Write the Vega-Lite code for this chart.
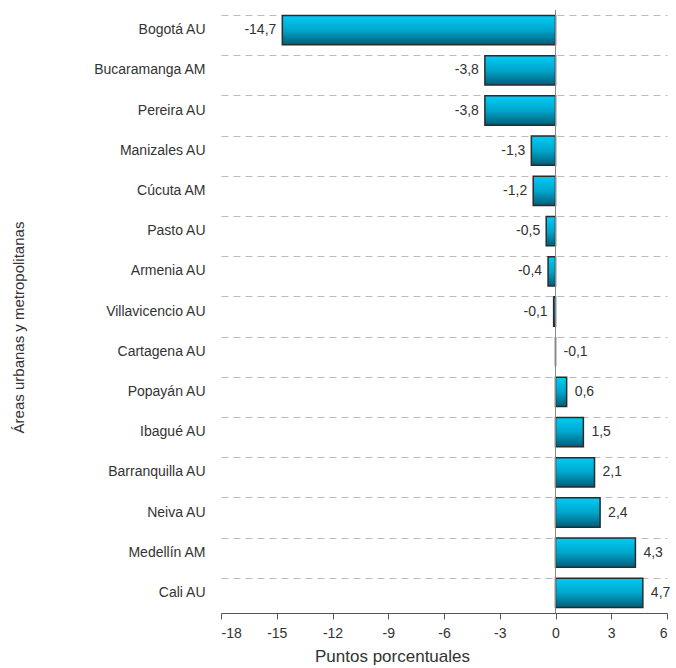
{
  "$schema": "https://vega.github.io/schema/vega-lite/v6.json",
  "autosize": "none",
  "width": 446,
  "height": 603,
  "padding": {"left": 221, "top": 10, "right": 9, "bottom": 55},
  "background": "white",
  "config": {"view": {"stroke": null}, "font": "Liberation Sans"},
  "data": {"values": [
    {"area": "Bogotá AU", "value": -14.7, "label": "-14,7"},
    {"area": "Bucaramanga AM", "value": -3.8, "label": "-3,8"},
    {"area": "Pereira AU", "value": -3.8, "label": "-3,8"},
    {"area": "Manizales AU", "value": -1.3, "label": "-1,3"},
    {"area": "Cúcuta AM", "value": -1.2, "label": "-1,2"},
    {"area": "Pasto AU", "value": -0.5, "label": "-0,5"},
    {"area": "Armenia AU", "value": -0.4, "label": "-0,4"},
    {"area": "Villavicencio AU", "value": -0.1, "label": "-0,1"},
    {"area": "Cartagena AU", "value": 0, "label": "-0,1"},
    {"area": "Popayán AU", "value": 0.6, "label": "0,6"},
    {"area": "Ibagué AU", "value": 1.5, "label": "1,5"},
    {"area": "Barranquilla AU", "value": 2.1, "label": "2,1"},
    {"area": "Neiva AU", "value": 2.4, "label": "2,4"},
    {"area": "Medellín AM", "value": 4.3, "label": "4,3"},
    {"area": "Cali AU", "value": 4.7, "label": "4,7"}
  ]},
  "encoding": {
    "y": {
      "field": "area", "type": "nominal", "sort": null,
      "scale": {"paddingInner": 0.27, "paddingOuter": 0.135},
      "axis": {
        "title": "Áreas urbanas y metropolitanas",
        "titleFont": "Liberation Sans", "titleFontSize": 15, "titleFontWeight": "normal", "titleColor": "#333",
        "titleX": -203, "titleY": 317, "titleAngle": -90, "titleAlign": "center", "titleBaseline": "middle",
        "labelFont": "Liberation Sans", "labelFontSize": 14, "labelColor": "#333", "labelPadding": 16,
        "ticks": false, "domain": false,
        "grid": true, "bandPosition": 0, "gridDash": [7, 5], "gridColor": "#bbbbbb", "gridWidth": 1
      }
    }
  },
  "layer": [
    {
      "mark": {"type": "bar", "stroke": "#2b2b2b", "strokeWidth": 1.5,
        "color": {"gradient": "linear", "x1": 0, "y1": 0, "x2": 0, "y2": 1,
          "stops": [{"offset": 0, "color": "#00ccf5"}, {"offset": 0.5, "color": "#00a6cc"}, {"offset": 1, "color": "#005d78"}]}},
      "encoding": {
        "x": {
          "field": "value", "type": "quantitative",
          "scale": {"domain": [-18, 6], "nice": false, "zero": false},
          "axis": {
            "title": "Puntos porcentuales", "values": [-18, -15, -12, -9, -6, -3, 0, 3, 6],
            "labelExpr": "replace(datum.label, '−', '-')",
            "titleFont": "Liberation Sans", "titleFontSize": 17, "titleFontWeight": "normal", "titleColor": "#333", "titlePadding": 8,
            "titleX": 171, "titleAlign": "center", "titleAnchor": null,
            "labelFont": "Liberation Sans", "labelFontSize": 14, "labelColor": "#333", "labelPadding": 7,
            "domainColor": "#555", "tickColor": "#555", "tickSize": 6, "grid": false
          }
        }
      }
    },
    {
      "mark": {"type": "rule", "color": "#888", "strokeWidth": 1},
      "encoding": {"x": {"datum": 0, "type": "quantitative"}, "y": {"value": 0}, "y2": {"value": 603}}
    },
    {
      "transform": [{"filter": "datum.value < 0"}],
      "mark": {"type": "text", "align": "right", "baseline": "middle", "dx": -6, "fontSize": 14, "color": "#333", "font": "Liberation Sans"},
      "encoding": {"x": {"field": "value", "type": "quantitative"}, "text": {"field": "label"}}
    },
    {
      "transform": [{"filter": "datum.value >= 0"}],
      "mark": {"type": "text", "align": "left", "baseline": "middle", "dx": 8, "fontSize": 14, "color": "#333", "font": "Liberation Sans"},
      "encoding": {"x": {"field": "value", "type": "quantitative"}, "text": {"field": "label"}}
    }
  ]
}
